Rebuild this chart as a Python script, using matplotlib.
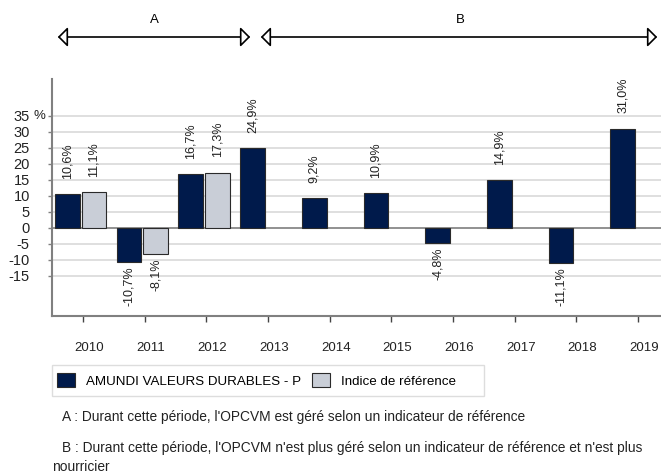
import numpy as np
import matplotlib
matplotlib.use('Agg')
import matplotlib.pyplot as plt
from matplotlib.patches import FancyArrowPatch, Rectangle, Patch
from matplotlib.transforms import ScaledTranslation

plt.rcParams['font.family'] = ['Liberation Sans', 'DejaVu Sans']

#=== Data ===
years = ['2010', '2011', '2012', '2013', '2014', '2015', '2016', '2017', '2018', '2019']
fund = [10.6, -10.7, 16.7, 24.9, 9.2, 10.9, -4.8, 14.9, -11.1, 31.0]
bench_years = ['2010', '2011', '2012']
bench = [11.1, -8.1, 17.3]
yticks = [-15, -10, -5, 0, 5, 10, 15, 20, 25, 30, 35]

fund_name = 'AMUNDI VALEURS DURABLES - P'
bench_name = 'Indice de référence'
note_a = "A : Durant cette période, l'OPCVM est géré selon un indicateur de référence"
note_b1 = "B : Durant cette période, l'OPCVM n'est plus géré selon un indicateur de référence et n'est plus"
note_b2 = "nourricier"

dark = '#001a4b'
light = '#c9ced7'
edge = '#2a2a2a'
grey = '#808080'

W, H = 661, 473
fig = plt.figure(figsize=(W / 100, H / 100), dpi=100)

# axes placed in pixel units
ax_l, ax_r, ax_t, ax_b = 52, 669, 79, 316
ax = fig.add_axes([ax_l / W, 1 - ax_b / H, (ax_r - ax_l) / W, (ax_b - ax_t) / H])

x = np.arange(len(years))
bx = np.array([years.index(y) for y in bench_years])
bw = 0.40

ax.bar(x - 0.25, fund, width=bw, color=dark, edgecolor=edge, linewidth=0.8, zorder=3)
ax.bar(bx + 0.18, bench, width=bw, color=light, edgecolor=edge, linewidth=0.8, zorder=3)

def put_labels(xs, vals):
    for xi, v in zip(xs, vals):
        txt = f"{v:.1f}%".replace('.', ',')
        if v >= 0:
            ax.annotate(txt, (xi, v), xytext=(0, 11), textcoords='offset points',
                        rotation=90, ha='center', va='bottom', fontsize=9, color='#222222')
        else:
            ax.annotate(txt, (xi, v), xytext=(0, -3), textcoords='offset points',
                        rotation=90, ha='center', va='top', fontsize=9, color='#222222')

put_labels(x - 0.25, fund)
put_labels(bx + 0.18, bench)

ax.set_xlim(-0.5, 9.5)
ax.set_ylim(-27.5, 46.5)
ax.set_yticks(yticks)
ax.set_yticklabels([str(t) for t in yticks])
ax.set_xticks(x)
ax.set_xticklabels(years)

for t in yticks:
    ax.axhline(t, color='#888888' if t == 0 else '#dcdcdc', linewidth=1.3, zorder=1)

ax.tick_params(axis='y', length=3, width=1, color=grey, pad=13, labelsize=10.5, labelcolor='#222222')
ax.tick_params(axis='x', length=4, width=1, color='#444444', pad=15, labelsize=9.5, labelcolor='#222222')
offset = ScaledTranslation(6 / 100, 0, fig.dpi_scale_trans)
for lab in ax.get_xticklabels():
    lab.set_transform(lab.get_transform() + offset)

ax.annotate('%', (0, 35), xycoords=('axes fraction', 'data'), xytext=(-5, 0),
            textcoords='offset points', ha='right', va='center', fontsize=9.5, color='#222222')

for s in ['top', 'right']:
    ax.spines[s].set_visible(False)
for s in ['left', 'bottom']:
    ax.spines[s].set_color(grey)
    ax.spines[s].set_linewidth(1.5)

#=== Period arrows ===
def px(xp, yp):
    return (xp / W, 1 - yp / H)

for x0, x1, lab, lx in [(55, 253, 'A', 154), (258, 660, 'B', 460)]:
    arr = FancyArrowPatch(px(x0, 37), px(x1, 37), transform=fig.transFigure,
                          arrowstyle='<|-|>,head_length=6,head_width=6', mutation_scale=1,
                          facecolor='white', edgecolor='black', linewidth=1.2)
    fig.add_artist(arr)
    fig.text(*px(lx, 20), lab, ha='center', va='center', fontsize=9.5)

#=== Legend ===
fig.add_artist(Rectangle(px(52, 396), (484 - 52) / W, 31 / H, transform=fig.transFigure,
                         facecolor='white', edgecolor='#dddddd', linewidth=1))
handles = [Patch(facecolor=dark, edgecolor=edge, linewidth=0.8, label=fund_name),
           Patch(facecolor=light, edgecolor=edge, linewidth=0.8, label=bench_name)]
fig.legend(handles=handles, loc='center left', bbox_to_anchor=px(57, 380.5), ncol=2,
           frameon=False, fontsize=9.6, handlelength=1.35, handleheight=1.25,
           handletextpad=0.8, columnspacing=0.85, borderpad=0, borderaxespad=0)

#=== Notes ===
fig.text(*px(62, 417), note_a, ha='left', va='center', fontsize=9.9, color='#222222')
fig.text(*px(62, 448), note_b1, ha='left', va='center', fontsize=9.9, color='#222222')
fig.text(*px(52, 466.5), note_b2, ha='left', va='center', fontsize=9.9, color='#222222')

fig.savefig('out.png', dpi=100)
